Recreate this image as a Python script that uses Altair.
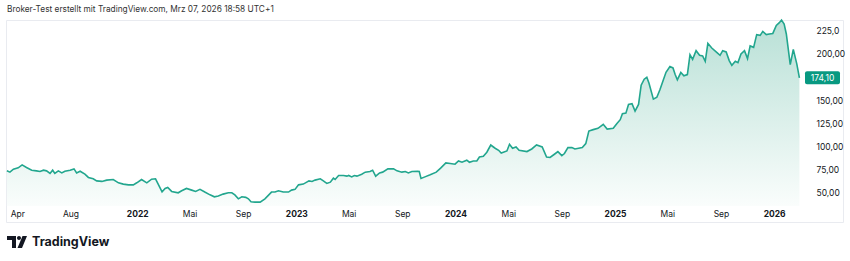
import altair as alt
import pandas as pd

dates = [
    "2021-03-08", "2021-03-15", "2021-03-23", "2021-04-03", "2021-04-12", "2021-04-22", "2021-05-04", "2021-05-15",
    "2021-05-23", "2021-05-31", "2021-06-07", "2021-06-15", "2021-06-21", "2021-06-26", "2021-07-04", "2021-07-12",
    "2021-07-19", "2021-07-31", "2021-08-09", "2021-08-15", "2021-08-23", "2021-09-03", "2021-09-11", "2021-09-22",
    "2021-09-30", "2021-10-12", "2021-10-23", "2021-11-07", "2021-11-19", "2021-11-30", "2021-12-12", "2021-12-23",
    "2021-12-31", "2022-01-11", "2022-01-23", "2022-02-03", "2022-02-12", "2022-02-27", "2022-03-06", "2022-03-12",
    "2022-03-21", "2022-04-05", "2022-04-13", "2022-04-24", "2022-05-06", "2022-05-15", "2022-05-25", "2022-06-05",
    "2022-06-17", "2022-06-27", "2022-07-06", "2022-07-17", "2022-07-29", "2022-08-06", "2022-08-13", "2022-08-21",
    "2022-08-29", "2022-09-07", "2022-09-13", "2022-09-19", "2022-09-28", "2022-10-10", "2022-10-21", "2022-11-05",
    "2022-11-13", "2022-11-21", "2022-12-02", "2022-12-14", "2022-12-21", "2022-12-29", "2023-01-06", "2023-01-17",
    "2023-01-30", "2023-02-06", "2023-02-13", "2023-02-25", "2023-03-04", "2023-03-12", "2023-03-20", "2023-03-27",
    "2023-03-31", "2023-04-08", "2023-04-19", "2023-04-27", "2023-05-01", "2023-05-08", "2023-05-14", "2023-05-20",
    "2023-05-31", "2023-06-08", "2023-06-19", "2023-06-25", "2023-07-02", "2023-07-11", "2023-07-18", "2023-07-30",
    "2023-08-12", "2023-08-20", "2023-08-31", "2023-09-08", "2023-09-15", "2023-09-23", "2023-10-06", "2023-10-10",
    "2023-10-14", "2023-10-23", "2023-11-04", "2023-11-18", "2023-11-28", "2023-12-10", "2023-12-20", "2023-12-31",
    "2024-01-08", "2024-01-16", "2024-01-27", "2024-02-02", "2024-02-11", "2024-02-19", "2024-02-25", "2024-03-05",
    "2024-03-13", "2024-03-22", "2024-04-01", "2024-04-09", "2024-04-15", "2024-04-28", "2024-05-04", "2024-05-11",
    "2024-05-19", "2024-05-26", "2024-06-13", "2024-06-24", "2024-07-05", "2024-07-18", "2024-07-28", "2024-08-05",
    "2024-08-15", "2024-08-23", "2024-09-01", "2024-09-07", "2024-09-15", "2024-09-24", "2024-10-01", "2024-10-18",
    "2024-10-26", "2024-11-02", "2024-11-12", "2024-11-23", "2024-12-05", "2024-12-14", "2024-12-28", "2025-01-05",
    "2025-01-13", "2025-01-18", "2025-01-26", "2025-02-01", "2025-02-09", "2025-02-16", "2025-02-24", "2025-03-02",
    "2025-03-09", "2025-03-15", "2025-03-20", "2025-03-30", "2025-04-07", "2025-04-14", "2025-04-22", "2025-04-28",
    "2025-05-07", "2025-05-14", "2025-05-19", "2025-05-24", "2025-06-01", "2025-06-08", "2025-06-16", "2025-06-22",
    "2025-06-28", "2025-07-06", "2025-07-14", "2025-07-21", "2025-07-27", "2025-08-02", "2025-08-11", "2025-08-23",
    "2025-08-30", "2025-09-05", "2025-09-13", "2025-09-20", "2025-09-26", "2025-10-04", "2025-10-10", "2025-10-17",
    "2025-10-25", "2025-11-01", "2025-11-07", "2025-11-15", "2025-11-22", "2025-11-30", "2025-12-06", "2025-12-14",
    "2025-12-21", "2025-12-29", "2026-01-06", "2026-01-13", "2026-01-18", "2026-01-24", "2026-01-29", "2026-02-07",
    "2026-02-14", "2026-02-22", "2026-02-28",
]

values = [
    73.7, 72.3, 75.5, 76.9, 80.1, 77.3, 74.4, 73.7,
    73.0, 74.4, 73.7, 70.9, 74.4, 70.9, 73.7, 71.5,
    73.3, 74.4, 75.8, 71.5, 73.3, 70.1, 66.6, 65.1,
    62.9, 62.3, 63.7, 64.4, 60.8, 59.4, 58.6, 58.6,
    60.8, 64.4, 60.8, 64.7, 65.1, 51.1, 54.7, 55.8,
    51.5, 50.0, 52.2, 54.7, 52.9, 51.5, 53.7, 50.8,
    47.8, 45.7, 46.5, 48.6, 50.0, 50.0, 47.8, 43.5,
    45.7, 45.1, 43.5, 40.3, 40.0, 40.0, 43.5, 50.8,
    50.8, 52.2, 50.8, 50.8, 52.9, 53.7, 58.6, 59.4,
    62.9, 62.3, 63.7, 65.1, 62.9, 60.1, 61.5, 65.8,
    64.4, 68.7, 68.7, 68.0, 68.7, 67.2, 68.7, 68.0,
    70.1, 72.3, 73.0, 74.4, 68.0, 71.5, 72.3, 75.8,
    75.8, 73.7, 72.3, 73.0, 71.5, 73.0, 73.3, 73.0,
    65.5, 67.2, 69.4, 72.3, 76.6, 82.3, 81.6, 80.9,
    84.4, 83.0, 85.2, 83.0, 84.4, 84.4, 88.7, 89.5,
    93.8, 101.6, 98.1, 95.9, 93.0, 95.2, 102.4, 98.1,
    99.5, 95.9, 94.5, 97.3, 101.6, 99.5, 88.7, 88.1,
    91.6, 94.5, 90.2, 92.4, 98.8, 98.8, 97.3, 98.8,
    103.1, 116.7, 118.2, 119.6, 123.9, 118.8, 119.6, 124.6,
    128.9, 135.4, 136.0, 145.4, 146.1, 138.2, 145.4, 166.1,
    172.6, 174.7, 168.3, 151.1, 153.2, 161.2, 171.9, 180.1,
    186.2, 184.8, 177.6, 171.9, 179.8, 176.2, 177.6, 199.1,
    194.1, 203.4, 198.4, 197.7, 191.9, 211.3, 206.3, 201.3,
    198.4, 203.4, 202.0, 192.7, 187.6, 191.9, 190.5, 199.9,
    203.4, 194.8, 208.5, 207.0, 220.7, 219.9, 224.2, 220.7,
    221.4, 222.0, 230.6, 233.6, 236.5, 232.2, 221.4, 188.4,
    204.8, 189.1, 174.1,
]

last_label = "174,10"
x_ticks = [
    "2021-04-01", "2021-08-01", "2022-01-01", "2022-05-01", "2022-09-01", "2023-01-01", "2023-05-01",
    "2023-09-01", "2024-01-01", "2024-05-01", "2024-09-01", "2025-01-01", "2025-05-01", "2025-09-01", "2026-01-01",
]
y_ticks = [50, 75, 100, 125, 150, 200, 225]
header = "Broker-Test erstellt mit TradingView.com, Mrz 07, 2026 18:58 UTC+1"
brand = "TradingView"

FONT = "Inter"
TEXT = "#131722"
LINE = "#22a68e"
TAG = "#089981"

df = pd.DataFrame({"date": dates, "price": values})


def dt(s):
    y, m, d = map(int, s.split("-"))
    return alt.DateTime(year=y, month=m, date=d)


x_scale = alt.Scale(domain=[dt("2021-03-06"), dt("2026-06-08")])
y_scale = alt.Scale(domain=[18.5, 236.5], nice=False, zero=False)

month_names = "['Jan','Feb','Mrz','Apr','Mai','Jun','Jul','Aug','Sep','Okt','Nov','Dez']"

x_axis = alt.Axis(
    values=[dt(s) for s in x_ticks],
    labelExpr=f"month(datum.value) == 0 ? timeFormat(datum.value, '%Y') : {month_names}[month(datum.value)]",
    ticks=False, tickSize=0, domain=False, grid=False,
    labelPadding=-9, labelBaseline="middle", labelFlush=False, labelOverlap=False,
    labelFontSize=8.5, labelColor=TEXT, labelFont=FONT,
    labelFontWeight=alt.condition("month(datum.value) == 0", alt.value("bold"), alt.value("normal")),
    title=None,
)

y_axis = alt.Axis(
    orient="right", values=y_ticks,
    labelExpr="datum.value == 225 ? '225,0' : replace(format(datum.value, '.2f'), '.', ',')",
    ticks=False, tickSize=0, domain=False, grid=False,
    labelPadding=-27, labelAlign="left", labelBaseline="middle",
    labelOverlap=False, labelFlush=False, labelBound=False,
    labelFontSize=8.5, labelColor=TEXT, labelFont=FONT, title=None,
)

gradient = alt.Gradient(
    gradient="linear",
    stops=[alt.GradientStop(color="#fafdfc", offset=0), alt.GradientStop(color="#b8e0d6", offset=1)],
    x1=1, x2=1, y1=1, y2=0,
)

area = alt.Chart(df).mark_area(color=gradient, interpolate="linear").encode(
    x=alt.X("date:T", scale=x_scale, axis=x_axis, title=None),
    y=alt.Y("price:Q", scale=y_scale, axis=y_axis, title=None),
    y2=alt.datum(35.7),
)

line = alt.Chart(df).mark_line(color=LINE, strokeWidth=1.6, interpolate="linear").encode(
    x=alt.X("date:T", scale=x_scale, axis=x_axis, title=None),
    y=alt.Y("price:Q", scale=y_scale, axis=y_axis, title=None),
)

df_tag = pd.DataFrame({"price": [values[-1]], "label": [last_label]})

tag_rect = alt.Chart(df_tag).transform_calculate(
    lo="datum.price - 7", hi="datum.price + 7"
).mark_rect(color=TAG, cornerRadius=2).encode(
    x=alt.value(799), x2=alt.value(834),
    y=alt.Y("lo:Q", scale=y_scale, axis=y_axis, title=None), y2="hi:Q",
)

tag_text = alt.Chart(df_tag).mark_text(
    color="white", fontSize=8.5, font=FONT, align="center", baseline="middle"
).encode(
    x=alt.value(816.5),
    y=alt.Y("price:Q", scale=y_scale, axis=y_axis, title=None),
    text="label:N",
)

header_text = alt.Chart(pd.DataFrame({"t": [header]})).mark_text(
    align="left", baseline="middle", fontSize=8.3, font=FONT, color="#333333"
).encode(x=alt.value(1), y=alt.value(-10), text="t:N")

brand_text = alt.Chart(pd.DataFrame({"t": [brand]})).mark_text(
    align="left", baseline="middle", fontSize=12.5, fontWeight=700, font=FONT, color=TEXT
).encode(x=alt.value(26), y=alt.value(222), text="t:N")

logo_path = (
    "M-1,-0.6 L-0.1,-0.6 L-0.1,0.6 L-0.5,0.6 L-0.5,-0.2 L-1,-0.2 Z "
    "M0,-0.4 A0.2,0.2 0 1,0 0.4,-0.4 A0.2,0.2 0 1,0 0,-0.4 Z "
    "M0.55,-0.6 L1,-0.6 L0.5,0.6 L0.05,0.6 Z"
)

logo = alt.Chart(pd.DataFrame({"a": [0]})).mark_point(
    shape=logo_path, size=400, filled=True, color=TEXT, opacity=1, strokeWidth=0
).encode(x=alt.value(11), y=alt.value(222))

chart = alt.layer(area, line, tag_rect, tag_text, header_text, brand_text, logo).properties(
    width=837, height=202,
    padding={"left": 6, "top": 20, "right": 7, "bottom": 39},
    autosize=alt.AutoSizeParams(type="none"),
    background="white",
).configure_view(
    stroke="#e9ebf0", strokeWidth=1
).configure_axis(labelOverlap=False)

chart.save("out.html", embed_options={"renderer": "svg", "actions": False})
